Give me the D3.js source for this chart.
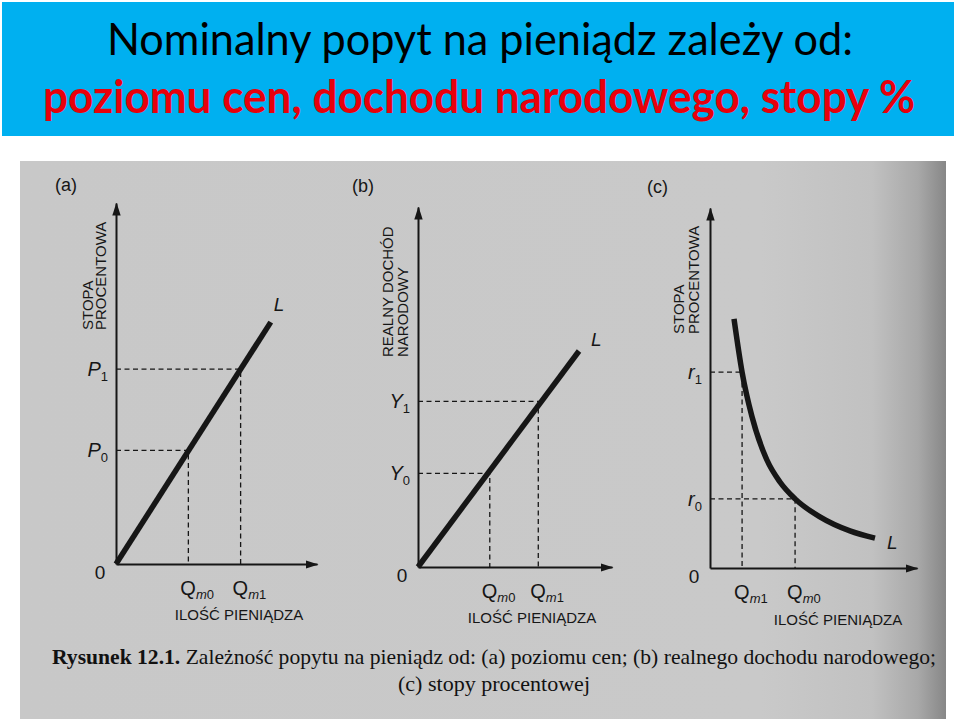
<!DOCTYPE html>
<html>
<head>
<meta charset="utf-8">
<script src="https://cdn.jsdelivr.net/npm/d3@7"></script>
<style>
  body { margin: 0; background: #fff; }
  svg { display: block; }
</style>
</head>
<body>
<div id="chart"></div>
<script>
// Text
const titleLine1 = "Nominalny popyt na pieniądz zależy od:";
const titleLine2 = "poziomu cen, dochodu narodowego, stopy %";
const captionBold = "Rysunek 12.1.";
const captionLine1 = "Zależność popytu na pieniądz od: (a) poziomu cen; (b) realnego dochodu narodowego;";
const captionLine2 = "(c) stopy procentowej";
const panelNames = ["(a)", "(b)", "(c)"];
const yAxisTitles = [["STOPA", "PROCENTOWA"], ["REALNY DOCHÓD", "NARODOWY"], ["STOPA", "PROCENTOWA"]];
const xAxisTitle = "ILOŚĆ PIENIĄDZA";

// (a) price level -> demand for money (axis units 0..10)
const aCurve = [[0, 0], [7.7, 6.7]];
const aYLevels = [3.15, 5.4];
const aXLevels = [3.6, 6.2];
const aYLabels = [["P", "0"], ["P", "1"]];
const aXLabels = ["m0", "m1"];

// (b) real national income
const bCurve = [[0, 0], [8.3, 6.0]];
const bYLevels = [2.6, 4.6];
const bXLevels = [3.7, 6.2];
const bYLabels = [["Y", "0"], ["Y", "1"]];
const bXLabels = ["m0", "m1"];

// (c) interest rate
const cCurve = [[1.16, 6.92], [1.55, 5.44], [2.03, 4.2], [2.75, 3.0], [3.38, 2.39],
                [4.11, 1.92], [5.31, 1.42], [6.76, 1.03], [7.97, 0.83]];
const cYLevels = [1.92, 5.44];
const cXLevels = [4.11, 1.55];
const cYLabels = [["r", "0"], ["r", "1"]];
const cXLabels = ["m0", "m1"];

const width = 960, height = 723;
const ink = "#161616";
const sans = "'Liberation Sans', Arial, sans-serif";

const svg = d3.select("#chart").append("svg")
    .attr("width", width)
    .attr("height", height);

const defs = svg.append("defs");
defs.append("marker")
    .attr("id", "arrow")
    .attr("viewBox", "0 -5 13 10")
    .attr("refX", 12)
    .attr("refY", 0)
    .attr("markerUnits", "userSpaceOnUse")
    .attr("markerWidth", 13)
    .attr("markerHeight", 10)
    .attr("orient", "auto")
    .append("path")
    .attr("d", "M0,-4.2L13,0L0,4.2Z")
    .attr("fill", ink);

const grad = defs.append("linearGradient").attr("id", "paper")
    .attr("x1", "0%").attr("x2", "100%").attr("y1", "0%").attr("y2", "0%");
grad.append("stop").attr("offset", "0%").attr("stop-color", "#c8c8c8");
grad.append("stop").attr("offset", "80%").attr("stop-color", "#c9c9c9");
grad.append("stop").attr("offset", "92%").attr("stop-color", "#c1c1c1");
grad.append("stop").attr("offset", "97%").attr("stop-color", "#a8a8a8");
grad.append("stop").attr("offset", "100%").attr("stop-color", "#878787");

// Title bar
svg.append("rect")
    .attr("x", 2).attr("y", 2).attr("width", 952).attr("height", 134)
    .attr("fill", "#00b0f0");
svg.append("text")
    .attr("x", 480).attr("y", 55)
    .attr("text-anchor", "middle")
    .attr("textLength", 746).attr("lengthAdjust", "spacingAndGlyphs")
    .style("font-family", "Lato, 'Open Sans', sans-serif")
    .style("font-size", "45px")
    .attr("fill", "#000")
    .text(titleLine1);
svg.append("text")
    .attr("x", 479).attr("y", 113)
    .attr("text-anchor", "middle")
    .attr("textLength", 872).attr("lengthAdjust", "spacingAndGlyphs")
    .style("font-family", "Lato, 'Open Sans', sans-serif")
    .style("font-size", "46px")
    .style("font-weight", "bold")
    .attr("fill", "#e8000b")
    .text(titleLine2);

// Scanned page
svg.append("rect")
    .attr("x", 20).attr("y", 161).attr("width", 926).attr("height", 558)
    .attr("fill", "url(#paper)");

// Panel layout (pixels)
const panels = [
    { x0: 116, x1: 317, y0: 564, y1: 203, curve: aCurve, yLevels: aYLevels, xLevels: aXLevels,
      yLabels: aYLabels, xLabels: aXLabels, smooth: false,
      name: [55, 191], title: [93, 106, 330], xTitle: [239, 620], lOffset: [3, -11] },
    { x0: 418, x1: 612, y0: 567, y1: 207, curve: bCurve, yLevels: bYLevels, xLevels: bXLevels,
      yLabels: bYLabels, xLabels: bXLabels, smooth: false,
      name: [352, 192], title: [393, 408, 357], xTitle: [532, 623], lOffset: [12, -5] },
    { x0: 710, x1: 917, y0: 568, y1: 208, curve: cCurve, yLevels: cYLevels, xLevels: cXLevels,
      yLabels: cYLabels, xLabels: cXLabels, smooth: true,
      name: [647, 193], title: [684, 699, 334], xTitle: [838, 625], lOffset: [12, 11] }
];

function drawPanel(p, i) {
    const x = d3.scaleLinear().domain([0, 10]).range([p.x0, p.x1]);
    const y = d3.scaleLinear().domain([0, 10]).range([p.y0, p.y1]);
    const g = svg.append("g");

    // dashed guides
    p.yLevels.forEach(function(lv, k) {
        const xv = p.xLevels[k];
        g.append("path")
            .attr("d", "M" + x(0) + "," + y(lv) + "H" + x(xv) + "V" + y(0))
            .attr("fill", "none")
            .attr("stroke", ink)
            .attr("stroke-width", 1.3)
            .attr("stroke-dasharray", "5,3.5");
    });

    // axes
    const xAxis = g.append("g")
        .attr("transform", "translate(0," + y(0) + ")")
        .call(d3.axisBottom(x).tickValues([]).tickSizeOuter(0));
    const yAxis = g.append("g")
        .attr("transform", "translate(" + x(0) + ",0)")
        .call(d3.axisLeft(y).tickValues([]).tickSizeOuter(0));
    [xAxis, yAxis].forEach(function(a) {
        a.select(".domain")
            .attr("stroke", ink)
            .attr("stroke-width", 2)
            .attr("marker-end", "url(#arrow)");
    });

    // demand curve L
    const line = d3.line()
        .x(d => x(d[0]))
        .y(d => y(d[1]))
        .curve(p.smooth ? d3.curveMonotoneX : d3.curveLinear);
    g.append("path")
        .datum(p.curve)
        .attr("d", line)
        .attr("fill", "none")
        .attr("stroke", ink)
        .attr("stroke-width", 5.5)
        .attr("stroke-linecap", "butt");

    const last = p.curve[p.curve.length - 1];
    g.append("text")
        .attr("x", x(last[0]) + p.lOffset[0])
        .attr("y", y(last[1]) + p.lOffset[1])
        .style("font-family", sans)
        .style("font-size", "19px")
        .style("font-style", "italic")
        .attr("fill", ink)
        .text("L");

    // y level labels
    p.yLevels.forEach(function(lv, k) {
        const t = g.append("text")
            .attr("x", x(0) - 8)
            .attr("y", y(lv) + 7)
            .attr("text-anchor", "end")
            .style("font-family", sans)
            .attr("fill", ink);
        t.append("tspan").style("font-size", "20px").style("font-style", "italic").text(p.yLabels[k][0]);
        t.append("tspan").attr("dy", 5).style("font-size", "13px").text(p.yLabels[k][1]);
    });

    // x level labels
    p.xLevels.forEach(function(lv, k) {
        const t = g.append("text")
            .attr("x", x(lv) - 8)
            .attr("y", y(0) + 31)
            .style("font-family", sans)
            .attr("fill", ink);
        t.append("tspan").style("font-size", "20px").text("Q");
        t.append("tspan").attr("dy", 4).style("font-size", "13px").style("font-style", "italic").text(p.xLabels[k][0]);
        t.append("tspan").style("font-size", "13px").text(p.xLabels[k].slice(1));
    });

    // origin
    g.append("text")
        .attr("x", x(0) - 16)
        .attr("y", y(0) + 15)
        .attr("text-anchor", "middle")
        .style("font-family", sans)
        .style("font-size", "19px")
        .attr("fill", ink)
        .text("0");

    // panel name
    g.append("text")
        .attr("x", p.name[0]).attr("y", p.name[1])
        .style("font-family", sans)
        .style("font-size", "18px")
        .attr("fill", ink)
        .text(panelNames[i]);

    // rotated y axis title (two lines)
    yAxisTitles[i].forEach(function(s, k) {
        g.append("text")
            .attr("transform", "translate(" + p.title[k] + "," + p.title[2] + ") rotate(-90)")
            .style("font-family", sans)
            .style("font-size", "15px")
            .attr("fill", ink)
            .text(s);
    });

    // x axis title
    g.append("text")
        .attr("x", p.xTitle[0]).attr("y", p.xTitle[1])
        .attr("text-anchor", "middle")
        .style("font-family", sans)
        .style("font-size", "15px")
        .attr("fill", ink)
        .text(xAxisTitle);
}

panels.forEach(drawPanel);

// Caption
const cap = svg.append("text")
    .attr("x", 52).attr("y", 664)
    .attr("textLength", 884).attr("lengthAdjust", "spacingAndGlyphs")
    .style("font-family", "'Liberation Serif', 'Times New Roman', serif")
    .style("font-size", "22px")
    .attr("fill", "#111");
cap.append("tspan").style("font-weight", "bold").text(captionBold + "  ");
cap.append("tspan").text(captionLine1);

svg.append("text")
    .attr("x", 494).attr("y", 691)
    .attr("text-anchor", "middle")
    .attr("textLength", 192).attr("lengthAdjust", "spacingAndGlyphs")
    .style("font-family", "'Liberation Serif', 'Times New Roman', serif")
    .style("font-size", "22px")
    .attr("fill", "#111")
    .text(captionLine2);
</script>
</body>
</html>
